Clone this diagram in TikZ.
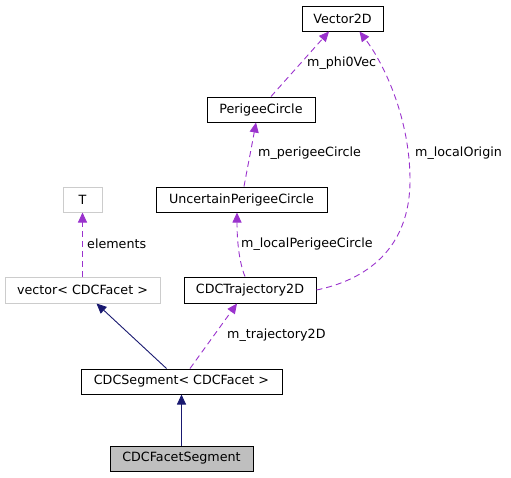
\documentclass[tikz,border=0pt]{standalone}
\usepackage{fontspec}
\setmainfont{DejaVu Sans}
\usetikzlibrary{arrows.meta}
\definecolor{navyc}{HTML}{191970}
\definecolor{purplec}{HTML}{9A32CD}
\definecolor{grayb}{HTML}{BFBFBF}
\tikzset{
  box/.style={draw=black, line width=1pt, fill=white, inner sep=0pt, font=\fontsize{12.7}{15}\selectfont},
  graybox/.style={box, draw=grayb!80!white},
  mainbox/.style={box, fill=grayb},
  inherit/.style={draw=navyc, line width=0.9pt, -{Triangle[length=10pt,width=9pt]}},
  usage/.style={draw=purplec, line width=0.9pt, dash pattern=on 6pt off 4pt, -{Triangle[length=10pt,width=9pt,fill=purplec]}},
  lbl/.style={anchor=west, inner sep=0pt, font=\fontsize{12.7}{15}\selectfont},
}
\begin{document}
\begin{tikzpicture}[x=1pt,y=-1pt]
\useasboundingbox (0,0) rectangle (511,477);
\node[box, minimum width=81pt, minimum height=25pt] (vec) at (342.5,18.5) {Vector2D};
\node[box, minimum width=108pt, minimum height=25pt] (pc) at (261,109.5) {PerigeeCircle};
\node[box, minimum width=171pt, minimum height=25pt] (upc) at (241.5,199.5) {UncertainPerigeeCircle};
\node[graybox, minimum width=39pt, minimum height=25pt] (t) at (82.5,199.5) {T};
\node[graybox, minimum width=155pt, minimum height=26pt] (vcf) at (82.5,290) {vector< CDCFacet >};
\node[box, minimum width=132pt, minimum height=26pt] (traj) at (250,290) {CDCTrajectory2D};
\node[box, minimum width=201pt, minimum height=25pt] (seg) at (181.5,381.5) {CDCSegment< CDCFacet >};
\node[mainbox, minimum width=143pt, minimum height=25pt] (fs) at (181.5,458.5) {CDCFacetSegment};

\draw[inherit] (fs.north) -- (seg.south);
\draw[inherit] ([xshift=-15pt]seg.north) -- ([xshift=14pt]vcf.south);
\draw[usage] ([xshift=8.5pt]seg.north) -- ([xshift=-13pt]traj.south);
\draw[usage] ([xshift=-5pt]traj.north) .. controls (239,262) and (237,240) .. ([xshift=-4.5pt]upc.south);
\draw[usage] (vcf.north) -- (t.south);
\draw[usage] ([xshift=2.5pt]upc.north) .. controls (247,170) and (251,150) .. ([xshift=-5pt]pc.south);
\draw[usage] ([xshift=10pt]pc.north) -- ([xshift=-13.5pt]vec.south);
\draw[usage] (traj.east) .. controls (365,280) and (410,250) .. (410,180) .. controls (410,120) and (385,65) .. ([xshift=17pt]vec.south);

\node[lbl] (l1) at (307,63) {m\_phi0Vec};
\node[lbl] (l2) at (258,153) {m\_perigeeCircle};
\node[lbl] (l3) at (415,153) {m\_localOrigin};
\node[lbl] (l4) at (87,244) {elements};
\node[lbl] (l5) at (241,244) {m\_localPerigeeCircle};
\node[lbl] (l6) at (227,335) {m\_trajectory2D};
\end{tikzpicture}
\end{document}
